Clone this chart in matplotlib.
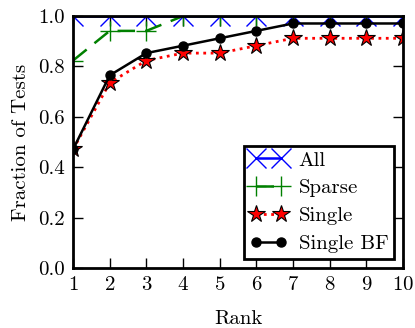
import matplotlib
matplotlib.use("Agg")
import matplotlib.pyplot as plt
import numpy as np

plt.rcParams['font.family'] = ['cmr10', 'DejaVu Serif']
plt.rcParams['axes.formatter.use_mathtext'] = True
plt.rcParams['font.size'] = 15

# data (fractions of 34 tests)
rank = [1, 2, 3, 4, 5, 6, 7, 8, 9, 10]
all_frac = [34, 34, 34, 34, 34, 34, 34, 34, 34, 34]
sparse_frac = [28, 32, 32, 34, 34, 34, 34, 34, 34, 34]
single_frac = [16, 25, 28, 29, 29, 30, 31, 31, 31, 31]
single_bf_frac = [16, 26, 29, 30, 31, 32, 33, 33, 33, 33]
n_tests = 34.0

fig = plt.figure(figsize=(4.15, 3.28), dpi=100)
ax = fig.add_axes([0.176, 0.183, 0.795, 0.768])

ax.plot(rank, np.array(all_frac) / n_tests, color="blue", linestyle="-", marker="x",
        markersize=14, markeredgewidth=1.0, linewidth=1.8, label="All")
ax.plot(rank, np.array(sparse_frac) / n_tests, color="green", linestyle="--", marker="+",
        markersize=14, markeredgewidth=1.0, linewidth=1.8, dashes=(7, 4), label="Sparse")
ax.plot(rank, np.array(single_frac) / n_tests, color="red", linestyle=":", marker="*",
        markersize=13, markeredgecolor="black", markeredgewidth=0.8, linewidth=2.0, label="Single")
ax.plot(rank, np.array(single_bf_frac) / n_tests, color="black", linestyle="-", marker="o",
        markersize=6.5, linewidth=1.8, label="Single BF")

ax.set_xlim(1, 10)
ax.set_ylim(0, 1.0)
ax.set_xticks(rank)
ax.set_yticks([0.0, 0.2, 0.4, 0.6, 0.8, 1.0])
ax.set_yticklabels(["0.0", "0.2", "0.4", "0.6", "0.8", "1.0"])
ax.tick_params(direction="in", top=True, right=True, length=7, width=1, labelsize=15, pad=6)
for s in ax.spines.values():
    s.set_linewidth(2)

ax.set_xlabel("Rank", fontsize=15, labelpad=11)
ax.set_ylabel("Fraction of Tests", fontsize=15, labelpad=6)

leg = ax.legend(loc="lower right", numpoints=2, fancybox=False, framealpha=1,
                edgecolor="black", fontsize=15, borderaxespad=0.45, handlelength=1.8,
                labelspacing=0.45, borderpad=0.25, handletextpad=0.55)
leg.get_frame().set_linewidth(2)

plt.savefig("out.png", dpi=100)
